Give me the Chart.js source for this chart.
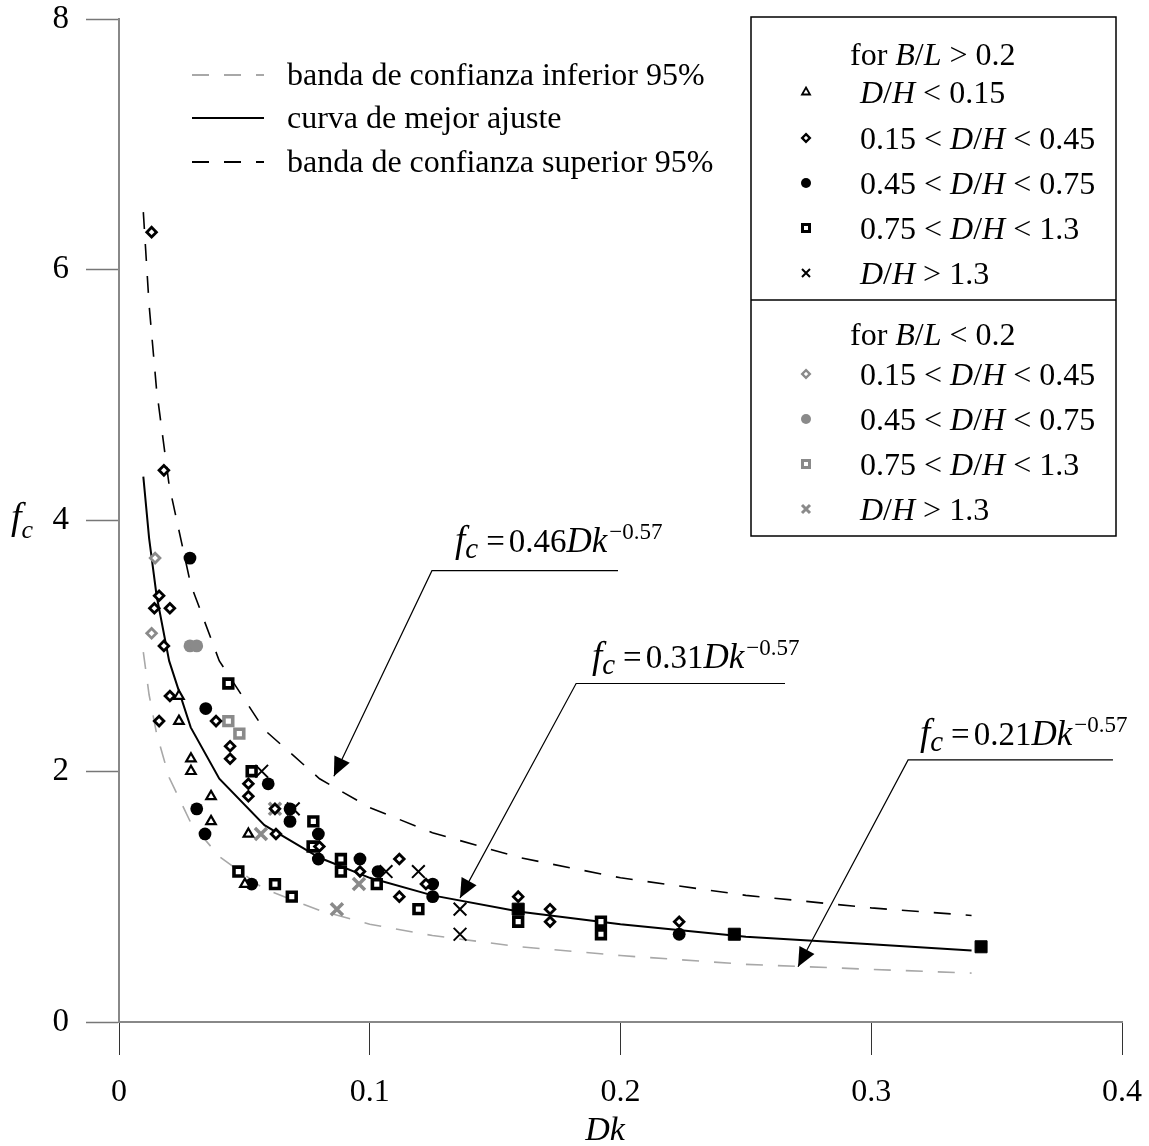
<!DOCTYPE html>
<html>
<head>
<meta charset="utf-8">
<script src="https://cdn.jsdelivr.net/npm/chart.js@4.4.1/dist/chart.umd.min.js"></script>
<style>
  body { margin: 0; background: #fff; }
  #wrap { width: 1149px; height: 1146px; position: relative; }
</style>
</head>
<body>
<div id="wrap"><canvas id="chart"></canvas></div>
<script>
const SERIF = "'Liberation Serif', 'Times New Roman', serif";
const GRAY = "#8a8a8a";

// axis ticks
const xTicks = [0, 0.1, 0.2, 0.3, 0.4];
const yTicks = [0, 2, 4, 6, 8];

// fitted curve and 95% bands
const curveDk    = [0.0097, 0.012, 0.015, 0.02, 0.0286, 0.04, 0.058, 0.08, 0.1, 0.125, 0.16, 0.2, 0.25, 0.3, 0.34];
const curveUpper = [6.46, 5.72, 5.04, 4.28, 3.49, 2.88, 2.33, 1.94, 1.71, 1.51, 1.31, 1.15, 1.01, 0.91, 0.85];
const curveBest  = [4.35, 3.86, 3.40, 2.88, 2.35, 1.94, 1.57, 1.31, 1.15, 1.01, 0.88, 0.78, 0.68, 0.62, 0.57];
const curveLower = [2.95, 2.61, 2.30, 1.95, 1.59, 1.32, 1.06, 0.89, 0.78, 0.69, 0.60, 0.53, 0.46, 0.42, 0.39];

// B/L > 0.2  -- [Dk, fc]
const triBig = [[0.0239, 2.6], [0.0239, 2.4], [0.0287, 2.1], [0.0287, 2.0], [0.0367, 1.8], [0.0367, 1.6],
  [0.0516, 1.5], [0.0502, 1.1]];
const diaBig = [[0.0130, 6.3], [0.0179, 4.4], [0.0160, 3.4], [0.0141, 3.3], [0.0203, 3.3], [0.0179, 3.0],
  [0.0203, 2.6], [0.0160, 2.4], [0.0387, 2.4], [0.0443, 2.2], [0.0443, 2.1], [0.0516, 1.9], [0.0516, 1.8],
  [0.0626, 1.5], [0.0622, 1.7], [0.0799, 1.4], [0.0961, 1.2], [0.1118, 1.3], [0.1118, 1.0], [0.1224, 1.1],
  [0.1592, 1.0], [0.1719, 0.9], [0.1719, 0.8], [0.2234, 0.8]];
const dotBig = [[0.0283, 3.7], [0.0346, 2.5], [0.0310, 1.7], [0.0343, 1.5], [0.0595, 1.9], [0.0682, 1.7],
  [0.0682, 1.6], [0.0795, 1.5], [0.0795, 1.3], [0.0961, 1.3], [0.1033, 1.2], [0.0529, 1.1], [0.1251, 1.1],
  [0.1251, 1.0], [0.2234, 0.7]];
const sqBig = [[0.0436, 2.7], [0.0529, 2.0], [0.0775, 1.6], [0.0772, 1.4], [0.0885, 1.3], [0.0885, 1.2],
  [0.1028, 1.1], [0.0476, 1.2], [0.0622, 1.1], [0.0689, 1.0], [0.1194, 0.9], [0.1592, 0.8], [0.1922, 0.8],
  [0.1922, 0.7]];
const crossBig = [[0.0569, 2.0], [0.0695, 1.7], [0.1065, 1.2], [0.1194, 1.2], [0.1360, 0.9], [0.1360, 0.7]];
const solidSq = [[0.1592, 0.9], [0.2454, 0.7], [0.3438, 0.6]];

// B/L < 0.2
const diaSmall = [[0.0144, 3.7], [0.0130, 3.1]];
const dotSmall = [[0.0283, 3.0], [0.0310, 3.0]];
const sqSmall = [[0.0436, 2.4], [0.0480, 2.3]];
const crossSmall = [[0.0622, 1.7], [0.0566, 1.5], [0.0957, 1.1], [0.0869, 0.9]];

// fit labels: coefficient, text anchor, leader line, arrow tip (data units)
const fitLabels = [
  { coef: "0.46", tx: 0.134, ty: 3.75, x0: 0.1248, x1: 0.199, ly: 3.60, ax: 0.0857, ay: 1.96 },
  { coef: "0.31", tx: 0.1886, ty: 2.82, x0: 0.1823, x1: 0.2656, ly: 2.70, ax: 0.136, ay: 0.99 },
  { coef: "0.21", tx: 0.3194, ty: 2.21, x0: 0.3147, x1: 0.3964, ly: 2.09, ax: 0.2708, ay: 0.44 }
];

const pts = arr => arr.map(p => ({ x: p[0], y: p[1] }));
const curve = ys => curveDk.map((d, i) => ({ x: d, y: ys[i] }));

function lineSet(label, ys, color, dash, width) {
  return { type: "scatter", label, data: curve(ys), showLine: true, borderColor: color, borderWidth: width,
    borderDash: dash, pointRadius: 0, fill: false, tension: 0, order: 20 };
}
function markSet(label, data, style, r, bw, border, bg, order) {
  return { type: "scatter", label, data: pts(data), pointStyle: style, pointRadius: r, borderWidth: bw,
    borderColor: border, backgroundColor: bg, order };
}

const datasets = [
  lineSet("banda de confianza inferior 95%", curveLower, "#a8a8a8", [17, 15], 1.6),
  lineSet("curva de mejor ajuste", curveBest, "#000", [], 2),
  lineSet("banda de confianza superior 95%", curveUpper, "#000", [17, 15], 1.6),
  markSet("gray cross", crossSmall, "crossRot", 8.5, 3.5, GRAY, GRAY, 10),
  markSet("gray square", sqSmall, "rect", 6.2, 3.6, GRAY, "#fff", 10),
  markSet("gray dot", dotSmall, "circle", 6.4, 0, GRAY, GRAY, 10),
  markSet("gray diamond", diaSmall, "rectRot", 4.8, 2.8, GRAY, "#fff", 10),
  markSet("cross", crossBig, "crossRot", 9, 2, "#000", "#000", 5),
  markSet("square", sqBig, "rect", 6.2, 3.6, "#000", "#fff", 4),
  markSet("solid square", solidSq, "rect", 8.5, 1, "#000", "#000", 4),
  markSet("dot", dotBig, "circle", 6.4, 0, "#000", "#000", 3),
  markSet("diamond", diaBig, "rectRot", 4.8, 2.8, "#000", "#fff", 2),
  markSet("triangle", triBig, "triangle", 5.5, 2.2, "#000", "#fff", 1)
];

function font(size, italic) { return (italic ? "italic " : "") + size + "px " + SERIF; }

// draws a run of text pieces: [text, size, italic, dy, gapAfter]
function drawRuns(ctx, x, y, runs) {
  runs.forEach(r => {
    ctx.font = font(r[1], r[2]);
    ctx.fillText(r[0], x, y + (r[3] || 0));
    x += ctx.measureText(r[0]).width + (r[4] || 0);
  });
  return x;
}

function drawMarker(ctx, style, x, y, color) {
  ctx.save();
  ctx.strokeStyle = color;
  ctx.fillStyle = color;
  ctx.beginPath();
  if (style === "tri") {
    ctx.lineWidth = 1.8;
    ctx.moveTo(x, y - 4.5); ctx.lineTo(x + 4, y + 2.5); ctx.lineTo(x - 4, y + 2.5); ctx.closePath();
    ctx.stroke();
  } else if (style === "dia") {
    ctx.lineWidth = 2.4;
    ctx.moveTo(x, y - 3.8); ctx.lineTo(x + 3.8, y); ctx.lineTo(x, y + 3.8); ctx.lineTo(x - 3.8, y); ctx.closePath();
    ctx.stroke();
  } else if (style === "dot") {
    ctx.arc(x, y, 5, 0, Math.PI * 2);
    ctx.fill();
  } else if (style === "sq") {
    ctx.lineWidth = 3;
    ctx.rect(x - 3.5, y - 3.5, 7, 7);
    ctx.stroke();
  } else if (style === "x") {
    ctx.lineWidth = color === "#000" ? 2 : 3;
    ctx.moveTo(x - 4, y - 4); ctx.lineTo(x + 4, y + 4);
    ctx.moveTo(x + 4, y - 4); ctx.lineTo(x - 4, y + 4);
    ctx.stroke();
  }
  ctx.restore();
}

const decorations = {
  id: "decorations",
  afterDraw(chart) {
    const ctx = chart.ctx;
    const xs = chart.scales.x, ys = chart.scales.y;
    const area = chart.chartArea;
    ctx.save();
    ctx.fillStyle = "#000";
    ctx.textBaseline = "alphabetic";
    ctx.textAlign = "left";

    // axis titles
    drawRuns(ctx, 11, 529, [["f", 38, true], ["c", 26, true, 9]]);
    ctx.font = font(34, true);
    ctx.textAlign = "center";
    ctx.fillText("Dk", 605, 1140);
    ctx.textAlign = "left";

    // line legend (top left)
    const lx0 = area.left + 73, lx1 = area.left + 145, tx = area.left + 168;
    const lineRows = [
      { y: area.top + 56, color: "#a8a8a8", dash: [17, 15], text: "banda de confianza inferior 95%" },
      { y: area.top + 99, color: "#000", dash: [], text: "curva de mejor ajuste" },
      { y: area.top + 143, color: "#000", dash: [17, 15], text: "banda de confianza superior 95%" }
    ];
    lineRows.forEach(r => {
      ctx.save();
      ctx.strokeStyle = r.color;
      ctx.lineWidth = r.color === "#000" && !r.dash.length ? 2 : 1.8;
      ctx.setLineDash(r.dash);
      ctx.beginPath(); ctx.moveTo(lx0, r.y); ctx.lineTo(lx1, r.y); ctx.stroke();
      ctx.restore();
      ctx.font = font(32, false);
      ctx.fillText(r.text, tx, r.y + 10);
    });

    // marker legend box (top right)
    const bx = 751, by = 17, bw = 365, bh = 519, split = 300;
    ctx.strokeStyle = "#000";
    ctx.lineWidth = 1.5;
    ctx.strokeRect(bx, by, bw, bh);
    ctx.beginPath(); ctx.moveTo(bx, split); ctx.lineTo(bx + bw, split); ctx.stroke();

    const mx = 806, txt = 860;
    const R = (t) => [t, 32, false], I = (t) => [t, 32, true];
    drawRuns(ctx, 850, 65, [R("for "), I("B"), R("/"), I("L"), R(" > 0.2")]);
    const rowsA = [
      { y: 92, m: "tri", runs: [I("D"), R("/"), I("H"), R(" < 0.15")] },
      { y: 138, m: "dia", runs: [R("0.15 < "), I("D"), R("/"), I("H"), R(" < 0.45")] },
      { y: 183, m: "dot", runs: [R("0.45 < "), I("D"), R("/"), I("H"), R(" < 0.75")] },
      { y: 228, m: "sq", runs: [R("0.75 < "), I("D"), R("/"), I("H"), R(" < 1.3")] },
      { y: 273, m: "x", runs: [I("D"), R("/"), I("H"), R(" > 1.3")] }
    ];
    rowsA.forEach(r => { drawMarker(ctx, r.m, mx, r.y, "#000"); drawRuns(ctx, txt, r.y + 11, r.runs); });
    drawRuns(ctx, 850, 345, [R("for "), I("B"), R("/"), I("L"), R(" < 0.2")]);
    const rowsB = [
      { y: 374, m: "dia", runs: [R("0.15 < "), I("D"), R("/"), I("H"), R(" < 0.45")] },
      { y: 419, m: "dot", runs: [R("0.45 < "), I("D"), R("/"), I("H"), R(" < 0.75")] },
      { y: 464, m: "sq", runs: [R("0.75 < "), I("D"), R("/"), I("H"), R(" < 1.3")] },
      { y: 509, m: "x", runs: [I("D"), R("/"), I("H"), R(" > 1.3")] }
    ];
    rowsB.forEach(r => { drawMarker(ctx, r.m, mx, r.y, GRAY); drawRuns(ctx, txt, r.y + 11, r.runs); });

    // fit labels with leader lines and arrows
    fitLabels.forEach(f => {
      const px = xs.getPixelForValue(f.tx), py = ys.getPixelForValue(f.ty);
      drawRuns(ctx, px, py, [["f", 37, true], ["c", 29, true, 6, 8], ["=", 33, false, 0, 4],
        [f.coef, 33, false], ["Dk", 35, true, 0, 2], ["\u22120.57", 23, false, -13]]);
      const a = xs.getPixelForValue(f.x0), b = xs.getPixelForValue(f.x1), ly = ys.getPixelForValue(f.ly);
      const tipX = xs.getPixelForValue(f.ax), tipY = ys.getPixelForValue(f.ay);
      ctx.strokeStyle = "#000";
      ctx.lineWidth = 1.2;
      ctx.beginPath(); ctx.moveTo(b, ly); ctx.lineTo(a, ly); ctx.lineTo(tipX, tipY); ctx.stroke();
      const ang = Math.atan2(tipY - ly, tipX - a);
      const hl = 19, hw = 8.5;
      const bxp = tipX - Math.cos(ang) * hl, byp = tipY - Math.sin(ang) * hl;
      ctx.beginPath();
      ctx.moveTo(tipX, tipY);
      ctx.lineTo(bxp + Math.sin(ang) * hw, byp - Math.cos(ang) * hw);
      ctx.lineTo(bxp - Math.sin(ang) * hw, byp + Math.cos(ang) * hw);
      ctx.closePath();
      ctx.fill();
    });
    ctx.restore();
  }
};

new Chart(document.getElementById("chart"), {
  type: "scatter",
  data: { datasets },
  options: {
    responsive: true,
    maintainAspectRatio: false,
    animation: false,
    layout: { padding: { top: 19, right: 27, left: 0, bottom: 0 } },
    plugins: { legend: { display: false }, tooltip: { enabled: false } },
    scales: {
      x: {
        type: "linear", min: 0, max: 0.4,
        afterFit: s => { s.height = 124; s.paddingLeft = 0; s.paddingRight = 0; },
        afterBuildTicks: s => { s.ticks = xTicks.map(v => ({ value: v })); },
        ticks: { font: { family: SERIF, size: 32 }, color: "#000", padding: 18, maxRotation: 0,
          callback: v => String(v) },
        grid: { drawOnChartArea: false, tickLength: 33, tickColor: "#333", tickWidth: 1 },
        border: { color: "#888", width: 2 }
      },
      y: {
        type: "linear", min: 0, max: 8,
        afterFit: s => { s.width = 119; s.paddingTop = 0; s.paddingBottom = 0; },
        afterBuildTicks: s => { s.ticks = yTicks.map(v => ({ value: v })); },
        ticks: { font: { family: SERIF, size: 33 }, color: "#000", padding: 17, callback: v => String(v) },
        grid: { drawOnChartArea: false, tickLength: 33, tickColor: "#777", tickWidth: 1.5 },
        border: { color: "#888", width: 2 }
      }
    }
  },
  plugins: [decorations]
});
</script>
</body>
</html>
